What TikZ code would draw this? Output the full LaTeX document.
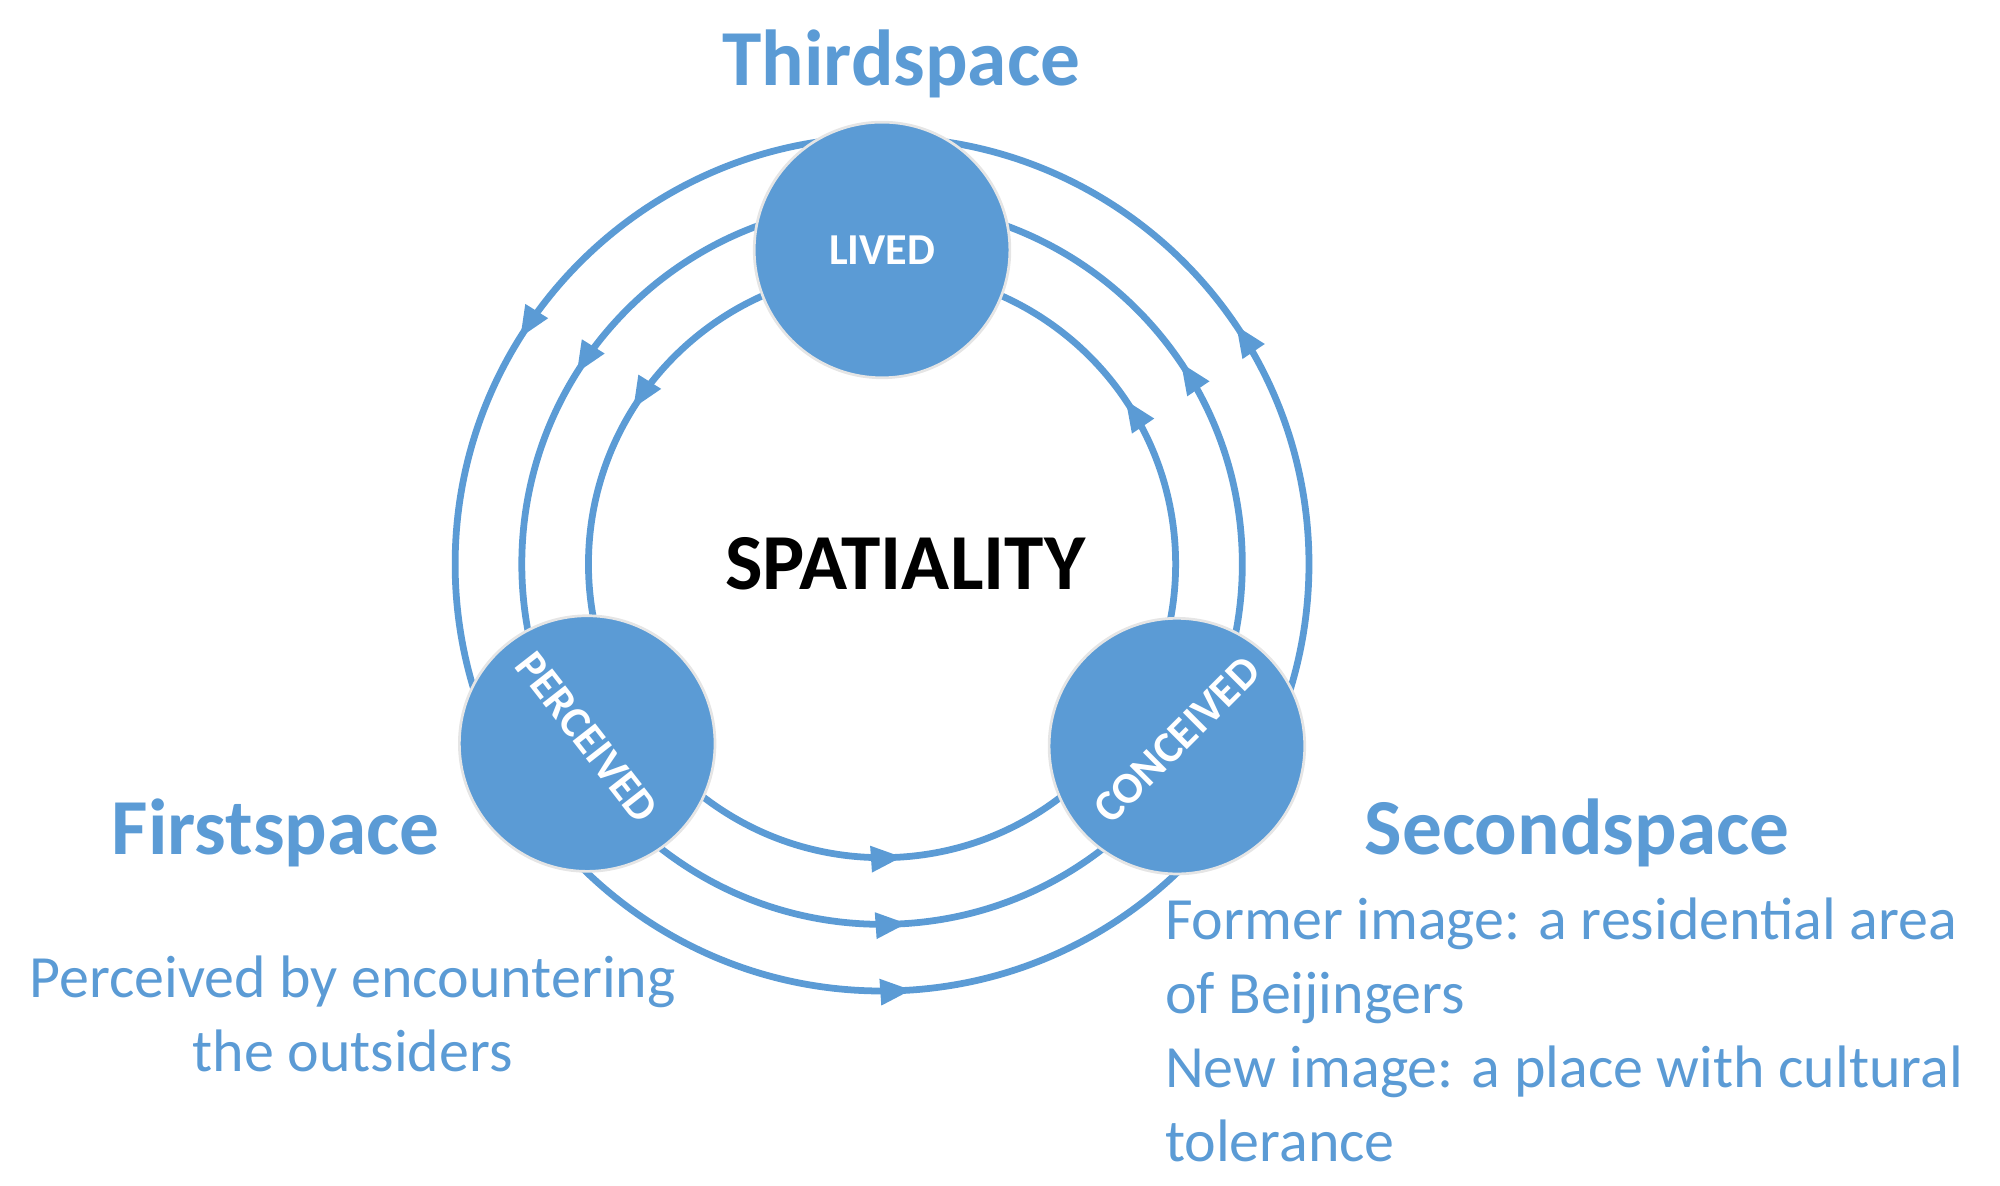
\documentclass[tikz,border=0pt]{standalone}
\usepackage{fontspec}
\setmainfont{Carlito}
\usetikzlibrary{arrows.meta}
\definecolor{bl}{HTML}{5B9BD5}
\begin{document}
\begin{tikzpicture}[x=0.01cm,y=0.01cm,
 ring/.style={draw=bl,line width=1.5pt},
 tip/.style={draw=bl,line width=1.5pt,-{Triangle[length=7pt,width=5.5pt]}},
 ball/.style={circle,fill=bl,draw=white!80!gray,line width=0.6pt,minimum size=200*0.2835pt,inner sep=0pt},
 ttl/.style={text=bl,font=\bfseries\fontsize{17.6}{20}\selectfont},
 body/.style={text=bl,font=\fontsize{13.3}{16.4}\selectfont},
 lab/.style={text=white,font=\bfseries\fontsize{9.8}{11}\selectfont}]
\useasboundingbox (0,0) rectangle (1560,925);
\coordinate (c) at (688,485);
\foreach \r in {333,281,229}{
  \draw[ring] (c) circle[radius=\r];
  \foreach \ang in {148,34,-86}{
    \draw[tip] (c) ++(\ang-4:\r) arc[start angle=\ang-4,end angle=\ang,radius=\r];
  }
}
\node[ball] (lived) at (688,730) {};
\node[ball] (perc) at (458,345) {};
\node[ball] (conc) at (918,343) {};
\node[lab] at (lived) {LIVED};
\node[lab,rotate=-52] at (458,350) {PERCEIVED};
\node[lab,rotate=45] at (918,348) {CONCEIVED};
\node[font=\bfseries\fontsize{17.6}{20}\selectfont] (sp) at (706,485) {SPATIALITY};
\node[ttl] (t3) at (703,875) {Thirdspace};
\node[ttl] (t1) at (215,275) {Firstspace};
\node[ttl] (t2) at (1230,275) {Secondspace};
\node[body,align=center] (b1) at (275,134) {Perceived by encountering\\the outsiders};
\node[body,align=left,anchor=north west,inner sep=0pt] (b2) at (908,225) {Former image: a residential area\\of Beijingers\\New image: a place with cultural\\tolerance};
\end{tikzpicture}
\end{document}
